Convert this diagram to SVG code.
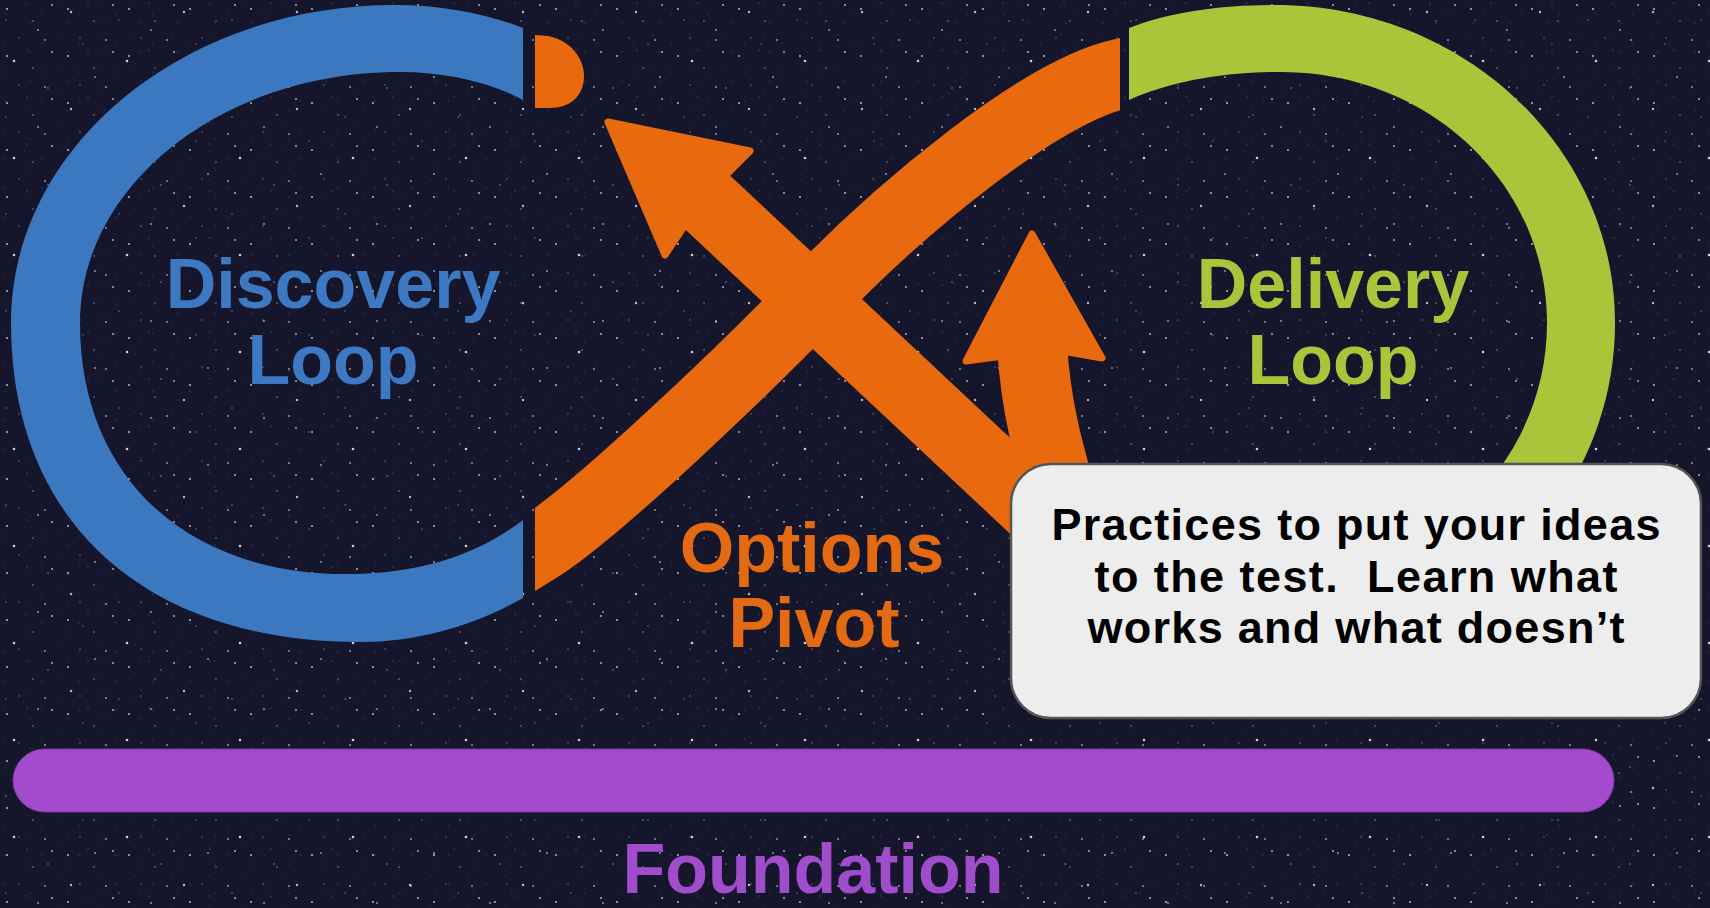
<svg xmlns="http://www.w3.org/2000/svg" width="1710" height="908" viewBox="0 0 1710 908">
  <defs>
    <style>
      .lbl { font-family: "Liberation Sans", Arial, sans-serif; font-weight: bold; font-size: 70px; text-anchor: middle; }
      .note { font-family: "Liberation Sans", Arial, sans-serif; font-weight: bold; font-size: 45px; text-anchor: middle; fill: #000; }
      .orange { fill: #e9690e; }
      .oband { fill: none; stroke: #e9690e; stroke-width: 70; stroke-linecap: butt; }
      .head { fill: #e9690e; stroke: #e9690e; stroke-width: 7; stroke-linejoin: round; }
    </style>
    <pattern id="stars1" width="61" height="47" patternUnits="userSpaceOnUse">
      <circle cx="7" cy="9" r="1" fill="#fff" opacity="0.7"/>
      <circle cx="33" cy="21" r="0.8" fill="#fff" opacity="0.5"/>
      <circle cx="52" cy="5" r="1.1" fill="#fff" opacity="0.6"/>
      <circle cx="19" cy="38" r="0.7" fill="#fff" opacity="0.45"/>
      <circle cx="45" cy="40" r="1" fill="#fff" opacity="0.55"/>
      <circle cx="27" cy="3" r="0.6" fill="#fff" opacity="0.4"/>
    </pattern>
    <pattern id="stars2" width="113" height="97" patternUnits="userSpaceOnUse">
      <circle cx="14" cy="61" r="1.3" fill="#fff" opacity="0.8"/>
      <circle cx="71" cy="12" r="1.2" fill="#fff" opacity="0.7"/>
      <circle cx="95" cy="77" r="0.9" fill="#fff" opacity="0.6"/>
      <circle cx="48" cy="88" r="0.8" fill="#fff" opacity="0.5"/>
      <circle cx="83" cy="44" r="0.7" fill="#fff" opacity="0.45"/>
      <circle cx="38" cy="30" r="1" fill="#fff" opacity="0.55"/>
      <circle cx="6" cy="20" r="0.7" fill="#fff" opacity="0.5"/>
    </pattern>
    <pattern id="stars3" width="37" height="29" patternUnits="userSpaceOnUse">
      <circle cx="5" cy="14" r="0.6" fill="#c8c8dc" opacity="0.35"/>
      <circle cx="24" cy="6" r="0.5" fill="#c8c8dc" opacity="0.3"/>
      <circle cx="30" cy="23" r="0.6" fill="#c8c8dc" opacity="0.35"/>
    </pattern>
    <clipPath id="clipA">
      <rect x="535" y="0" width="585" height="908"/>
    </clipPath>
  </defs>

  <!-- background -->
  <rect x="0" y="0" width="1710" height="908" fill="#15152b"/>
  <rect x="0" y="0" width="1710" height="908" fill="url(#stars3)"/>
  <rect x="0" y="0" width="1710" height="908" fill="url(#stars1)"/>
  <rect x="0" y="0" width="1710" height="908" fill="url(#stars2)"/>

  <g id="discovery-loop">
    <path fill="#3b78c0" d="M523,28 C490,15 445,5 395,5 C183,5 11,147 11,323 C11,521 144,642 360,642 C420,642 475,625 523,598 L523,520 C470,560 410,574 345,574 C189,574 80,479 80,323 C80,184 223,72 400,72 C445,72 490,82 523,100 Z"/>
    <text class="lbl" x="333" y="308" fill="#3d79c2">Discovery</text>
    <text class="lbl" x="333" y="384" fill="#3d79c2">Loop</text>
  </g>

  <g id="delivery-loop">
    <path fill="#a9c63b" d="M1129,28 C1170,12 1220,5 1275,5 C1463,5 1615,147 1615,323 C1615,499 1470,642 1290,642 C1230,642 1175,625 1129,597 L1129,520 C1175,556 1230,574 1290,574 C1432,574 1547,462 1547,323 C1547,184 1430,72 1280,72 C1220,72 1170,82 1129,100 Z"/>
    <text class="lbl" x="1333" y="308" fill="#a9c63b">Delivery</text>
    <text class="lbl" x="1333" y="384" fill="#a9c63b">Loop</text>
  </g>

  <g id="connectors">
    <!-- cap after discovery loop -->
    <path class="orange" d="M535,35 L548,36 C570,40 584,58 584,76 C584,96 570,108 550,108 L535,108 Z"/>
    <!-- curved band from discovery to delivery -->
    <path class="oband" clip-path="url(#clipA)" d="M509,566 L535,550 C595,514 752,362 812,300 C900,208 1040,92 1120,74 L1150,67"/>
    <!-- pivot arrow back to discovery -->
    <path class="oband" d="M690,186 L1100,570"/>
    <polygon class="head" points="608,122 750,151 728,173 683,228 665,255"/>
    <!-- branch arrow into delivery -->
    <path class="oband" d="M1032,345 C1036,410 1048,450 1068,520"/>
    <polygon class="head" points="1032,234 1102,358 1068,352 996,357 966,361"/>
  </g>

  <g id="options-pivot">
    <text class="lbl" x="812" y="572" fill="#e36a12">Options</text>
    <text class="lbl" x="814" y="647" fill="#e36a12">Pivot</text>
  </g>

  <g id="foundation">
    <rect x="13" y="749" width="1601" height="63" rx="31.5" fill="#a44bcd" stroke="#7a3a9a" stroke-width="1"/>
    <text class="lbl" x="813" y="893" fill="#a04dcc">Foundation</text>
  </g>

  <g id="callout">
    <rect x="1011" y="464" width="690" height="254" rx="40" fill="#ededed" stroke="#555" stroke-width="2.5"/>
    <text class="note" x="1356" y="540" textLength="609">Practices to put your ideas</text>
    <text class="note" x="1356" y="592" textLength="523" xml:space="preserve">to the test.  Learn what</text>
    <text class="note" x="1356" y="643" textLength="537">works and what doesn’t</text>
  </g>
</svg>
